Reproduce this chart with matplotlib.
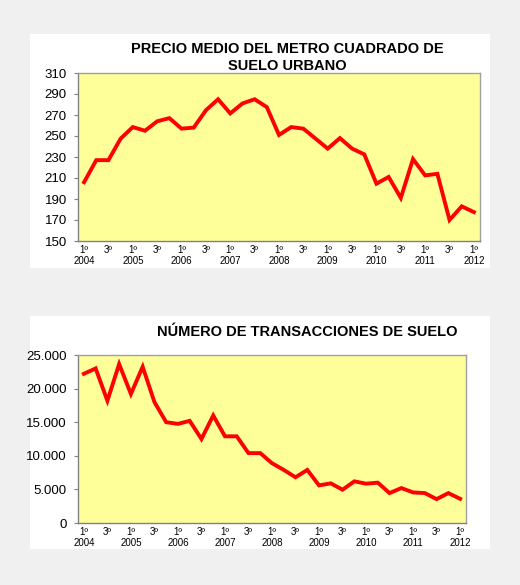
import matplotlib.pyplot as plt
from matplotlib.patches import Rectangle
from matplotlib.ticker import FuncFormatter

plt.rcParams['font.family'] = ['Liberation Sans', 'DejaVu Sans']

# quarterly series, 2004 Q1 .. 2012 Q1
years = list(range(2004, 2013))
precio = [206, 227, 227, 247.5, 258.5, 255, 264, 267, 257, 258, 274.5, 285,
          271.5, 281, 285, 277.5, 251, 258.5, 257, 247.5, 238, 248, 238, 232.5,
          204.6, 211, 191, 228, 212.5, 214, 170, 183, 177.5]
transacciones = [22200, 23000, 18200, 23650, 19200, 23250, 18000, 15000, 14750,
                 15200, 12500, 16000, 12900, 12900, 10400, 10400, 8900, 7900,
                 6800, 7900, 5600, 5900, 4950, 6200, 5850, 6000, 4450, 5200,
                 4550, 4450, 3550, 4450, 3600]


def xlabels(n):
    pos, labs = [], []
    for i in range(0, n, 2):
        pos.append(i)
        if i % 4 == 0:
            labs.append("1º\n" + str(years[i // 4]))
        else:
            labs.append("3º")
    return pos, labs


def style_axis(ax, data):
    n = len(data)
    ax.plot(range(n), data, color='#ff0000', lw=2.8, solid_joinstyle='miter')
    ax.set_facecolor('#ffff99')
    ax.set_xlim(-0.5, n - 0.5)
    for s in ax.spines.values():
        s.set_color('#a0a0a0')
        s.set_linewidth(1.0)
    ax.spines['left'].set_color('#808080')
    ax.spines['bottom'].set_color('#808080')
    pos, labs = xlabels(n)
    ax.set_xticks(pos)
    ax.set_xticklabels(labs, fontsize=7, linespacing=1.1, va='top')
    ax.tick_params(axis='x', length=0, pad=3)
    ax.tick_params(axis='y', labelsize=9.5, length=3, color='#808080', pad=5)


fig = plt.figure(figsize=(5.2, 5.85), dpi=100)
fig.patch.set_facecolor('#f0f0f0')
fig.patches.append(Rectangle((30 / 520, 1 - 268 / 585), 460 / 520, 234 / 585,
                             transform=fig.transFigure, facecolor='white', edgecolor='none', zorder=-10))
fig.patches.append(Rectangle((30 / 520, 1 - 549 / 585), 460 / 520, 233 / 585,
                             transform=fig.transFigure, facecolor='white', edgecolor='none', zorder=-10))

ax1 = fig.add_axes([78 / 520, 1 - 241 / 585, 402 / 520, 168 / 585])
style_axis(ax1, precio)
ax1.set_ylim(150, 310)
ax1.set_yticks(range(150, 311, 20))
fig.text(287 / 520, 1 - 49 / 585, "PRECIO MEDIO DEL METRO CUADRADO DE",
         ha='center', va='center', fontsize=10.5, fontweight='bold')
fig.text(287 / 520, 1 - 66 / 585, "SUELO URBANO",
         ha='center', va='center', fontsize=10.5, fontweight='bold')

ax2 = fig.add_axes([78 / 520, 1 - 523 / 585, 388 / 520, 168 / 585])
style_axis(ax2, transacciones)
ax2.set_ylim(0, 25000)
ax2.set_yticks(range(0, 25001, 5000))
ax2.yaxis.set_major_formatter(FuncFormatter(lambda v, p: f"{int(v):,}".replace(",", ".")))
fig.text(307 / 520, 1 - 332 / 585, "NÚMERO DE TRANSACCIONES DE SUELO",
         ha='center', va='center', fontsize=10.5, fontweight='bold')

fig.savefig('out.png', dpi=100, facecolor=fig.get_facecolor())
